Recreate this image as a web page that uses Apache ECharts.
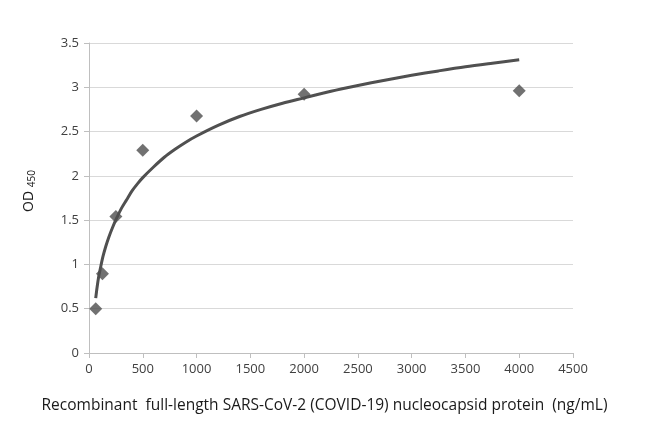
<!DOCTYPE html>
<html>
<head>
<meta charset="utf-8">
<script src="https://cdn.jsdelivr.net/npm/echarts@6/dist/echarts.min.js"></script>
<style>html,body{margin:0;padding:0;background:#fff}#c{width:650px;height:427px}</style>
</head>
<body>
<div id="c"></div>
<script>
// Measured points
const concentrations = [62.5, 125, 250, 500, 1000, 2000, 4000];
const odValues = [0.50, 0.895, 1.54, 2.29, 2.675, 2.92, 2.96];
// Trend line
const trendX = [62.5, 75, 90, 110, 130, 155, 185, 220, 260, 300, 350, 400, 450, 500, 600, 700, 800, 900, 1000,
  1200, 1400, 1600, 1800, 2000, 2250, 2500, 2750, 3000, 3250, 3500, 3750, 4000];
const trendY = [0.62, 0.74, 0.86, 0.98, 1.09, 1.20, 1.31, 1.42, 1.53, 1.63, 1.73, 1.83, 1.91, 1.98, 2.10, 2.21, 2.30, 2.38, 2.45,
  2.57, 2.67, 2.75, 2.82, 2.88, 2.955, 3.02, 3.08, 3.135, 3.185, 3.232, 3.272, 3.31];
const xTitle = 'Recombinant  full-length SARS-CoV-2 (COVID-19) nucleocapsid protein  (ng/mL)';

const font = '"Open Sans", "Liberation Sans", sans-serif';
const chart = echarts.init(document.getElementById('c'));
chart.setOption({
  animation: false,
  backgroundColor: '#fff',
  grid: {left: 89, right: 77, top: 43, bottom: 74, containLabel: false},
  xAxis: {
    type: 'value', min: 0, max: 4500, interval: 500,
    name: xTitle, nameLocation: 'middle', nameGap: 45,
    nameTextStyle: {fontFamily: font, fontSize: 15.5, color: '#1a1a1a', padding: [0, 13, 0, 0]},
    axisLine: {show: true, onZero: false, lineStyle: {color: '#bfbfbf', width: 1}},
    axisTick: {show: true, length: 5, lineStyle: {color: '#bfbfbf'}},
    axisLabel: {fontFamily: font, fontSize: 13, color: '#404040', margin: 10, formatter: v => String(v)},
    splitLine: {show: false}
  },
  yAxis: {
    type: 'value', min: 0, max: 3.5, interval: 0.5,
    name: '{a|OD }{b|450}', nameLocation: 'middle', nameGap: 52,
    nameTextStyle: {
      padding: [0, 0, 0, 14],
      rich: {
        a: {fontFamily: font, fontSize: 14, color: '#1a1a1a'},
        b: {fontFamily: font, fontSize: 10, color: '#1a1a1a', padding: [6, 0, 0, 0]}
      }
    },
    axisLine: {show: true, lineStyle: {color: '#bfbfbf', width: 1}},
    axisTick: {show: true, length: 5, lineStyle: {color: '#bfbfbf'}},
    axisLabel: {fontFamily: font, fontSize: 13, color: '#404040', margin: 10, formatter: v => String(v)},
    splitLine: {show: true, lineStyle: {color: '#d9d9d9', width: 1}}
  },
  series: [
    {
      type: 'line', smooth: 0.3, showSymbol: false, symbol: 'none',
      data: trendX.map((x, i) => [x, trendY[i]]),
      lineStyle: {color: '#505050', width: 3},
      z: 2
    },
    {
      type: 'scatter', symbol: 'diamond', symbolSize: 13,
      data: concentrations.map((x, i) => [x, odValues[i]]),
      itemStyle: {color: '#4d4d4d'},
      z: 3
    }
  ]
});
</script>
</body>
</html>
